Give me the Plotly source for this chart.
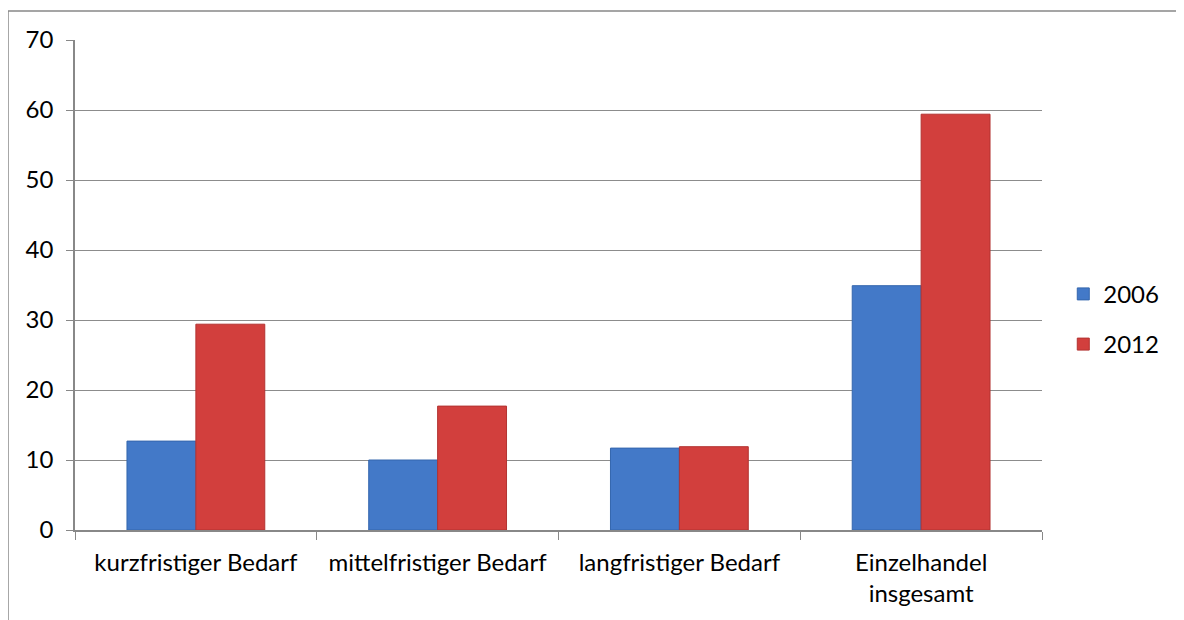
import plotly.graph_objects as go

categories = ["kurzfristiger Bedarf", "mittelfristiger Bedarf", "langfristiger Bedarf", "Einzelhandel<br>insgesamt"]
values_2006 = [12.7, 10.0, 11.7, 34.9]
values_2012 = [29.4, 17.7, 11.9, 59.4]
y_ticks = [0, 10, 20, 30, 40, 50, 60, 70]

font_family = "Lato, Open Sans, sans-serif"

fig = go.Figure()
fig.add_trace(go.Bar(x=categories, y=values_2006, name="2006", legendgroup="a",
                     marker=dict(color="#4379c8", line=dict(color="#3466ad", width=1))))
fig.add_trace(go.Bar(x=categories, y=values_2012, name="2012", legendgroup="b",
                     marker=dict(color="#d23f3d", line=dict(color="#b33331", width=1))))

# page body has 8px margin; offsets compensate
fig.update_layout(
    width=1184, height=620,
    margin=dict(l=67, r=150, t=32, b=98),
    paper_bgcolor="white", plot_bgcolor="white",
    barmode="group", bargap=0.43, bargroupgap=0,
    font=dict(family=font_family, size=24, color="black"),
    legend=dict(x=1.022, y=0.43, xanchor="left", yanchor="middle",
                font=dict(size=24), itemwidth=30, tracegroupgap=16),
    showlegend=True,
)
fig.update_xaxes(tickson="boundaries", ticks="outside", ticklen=8, tickcolor="#888",
                 showline=True, linecolor="#888", linewidth=1.5, showgrid=False,
                 tickfont=dict(size=24), ticklabelstandoff=10)
fig.update_yaxes(range=[0, 70], tickvals=y_ticks, ticks="outside", ticklen=7, tickcolor="#888",
                 showline=True, linecolor="#888", linewidth=1.5,
                 showgrid=True, gridcolor="#8c8c8c", gridwidth=1.2, zeroline=False,
                 tickfont=dict(size=24), ticklabelstandoff=8)

fig.add_shape(type="rect", xref="paper", yref="paper",
              x0=-0.0693, x1=1.3, y0=-0.4, y1=1.059,
              line=dict(color="#888", width=1.5), fillcolor="rgba(0,0,0,0)", layer="below")

fig.write_html("out.html")
